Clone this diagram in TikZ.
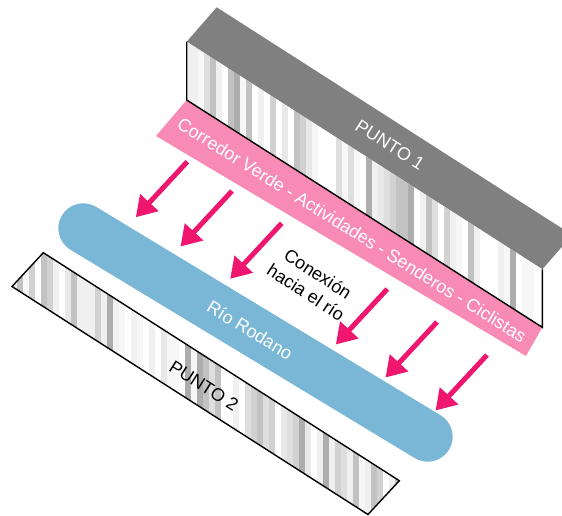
\documentclass[tikz,border=0pt]{standalone}
\usepackage{fontspec}
\setmainfont{Liberation Sans}
\usetikzlibrary{arrows.meta}
\definecolor{techo}{RGB}{128,128,128}
\definecolor{rosa}{RGB}{248,139,181}
\definecolor{rio}{RGB}{122,183,214}
\definecolor{fucsia}{RGB}{238,22,110}
\tikzset{
  flecha/.style={draw=fucsia, line width=5pt, -{Triangle[width=24pt,length=20pt]}},
  rotulo/.style={font=\fontsize{18}{22}\selectfont, inner sep=0pt, align=center},
  borde/.style={draw=black, line width=1.4pt, line join=miter}
}
\newcommand{\rayas}[3]{% vertical grey stripes from x=#1 to #2, seed #3
  \pgfmathsetseed{#3}
  \foreach \i in {0,...,65}{
    \pgfmathsetmacro\xx{#1+\i*6}
    \pgfmathrandominteger\g{0}{8}
    \pgfmathsetmacro\dk{{0,0,3,6,9,13,18,24,32}[\g]}
    \fill[black!\dk] (\xx,0) rectangle (\xx+6.2,515);
  }
}
\begin{document}
\begin{tikzpicture}[x=1pt,y=-1pt]
\useasboundingbox (0,0) rectangle (562,515);
\clip (0,0) rectangle (562,515);

% PUNTO 1: top face
\fill[techo] (186.7,41.7) -- (216.7,7.3) -- (572.3,234.9) -- (542.3,269.3) -- cycle;
% PUNTO 1: striped front face
\begin{scope}
  \clip (186.7,41.7) -- (542.3,269.3) -- (542.3,327.3) -- (186.7,100) -- cycle;
  \rayas{186}{543}{11}
\end{scope}

% corridor band
\fill[rosa] (186.7,100) -- (542.3,327.3) -- (526,356) -- (156,136) -- cycle;
\draw[borde] (186.7,41.7) -- (186.7,100) -- (542.3,327.3) -- (542.3,269.3);

% river
\coordinate (r1) at (83.3,228.3);
\coordinate (r2) at (427.7,436.7);
\draw[rio, line width=50pt, line cap=round] (r1) -- (r2);

% PUNTO 2
\begin{scope}
  \clip (43.3,252.7) -- (399.3,480.7) -- (368,514.5) -- (12,286.5) -- cycle;
  \rayas{11}{400}{5}
\end{scope}
\draw[borde] (43.3,252.7) -- (399.3,480.7) -- (368,514.5) -- (12,286.5) -- cycle;

% connection arrows
\foreach \n/\x/\y in {1/187.3/161.7, 2/232/191, 3/281.7/223.3, 4/387.3/289, 5/437/322, 6/487/355}{
  \coordinate (s\n) at (\x,\y);
  \coordinate (t\n) at (\x-51.5,\y+55.5);
  \draw[flecha] (s\n) -- (t\n);
}

% labels
\node[rotulo, text=white, rotate=-32.6] (p1) at (390,145) {PUNTO 1};
\node[rotulo, text=white, rotate=-32] (corr) at (352,230) {Corredor Verde - Actividades - Senderos - Ciclistas};
\node[rotulo, text=white, rotate=-31.2] (rr) at (250,330) {Río Rodano};
\node[rotulo, text=black, rotate=-32.6] (p2) at (204,386) {PUNTO 2};
\node[rotulo, text=black, rotate=-33] (con) at (312,283) {Conexión\\hacia el río};
\end{tikzpicture}
\end{document}
